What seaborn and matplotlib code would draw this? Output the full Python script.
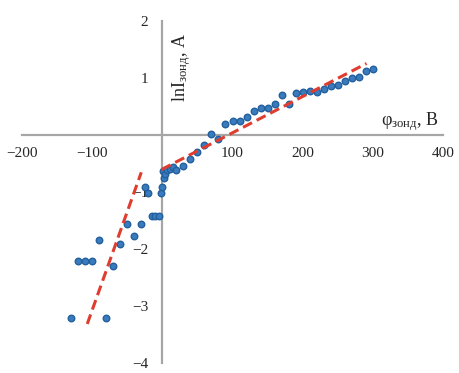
import matplotlib.pyplot as plt
import pandas as pd
import seaborn as sns

# probe potential, V and ln of probe current
phi = [-130, -120, -110, -100, -90, -80, -70, -60, -50, -40, -30, -25, -20,
       -15, -10, -5, -2, 0, 1, 2, 4, 7, 11, 15, 20, 30, 40, 50, 60, 70, 80,
       90, 100, 110, 120, 130, 140, 150, 160, 170, 180, 190, 200, 210, 220,
       230, 240, 250, 260, 270, 280, 290, 300]
ln_i = [-3.22, -2.22, -2.22, -2.22, -1.84, -3.22, -2.30, -1.91, -1.57, -1.78,
        -1.57, -0.91, -1.03, -1.43, -1.43, -1.43, -1.03, -0.92, -0.63, -0.76,
        -0.69, -0.62, -0.60, -0.56, -0.62, -0.55, -0.42, -0.30, -0.18, 0.01,
        -0.07, 0.18, 0.245, 0.245, 0.305, 0.42, 0.47, 0.47, 0.53, 0.70, 0.53,
        0.73, 0.75, 0.76, 0.755, 0.80, 0.855, 0.87, 0.95, 0.99, 1.02, 1.12,
        1.16]

# linear fits (end points)
fit1_x = [-107, -30]
fit1_y = [-3.32, -0.66]
fit2_x = [-1, 291]
fit2_y = [-0.61, 1.25]

x_ticks = [-200, -100, 100, 200, 300, 400]
y_ticks = [-4, -3, -2, -1, 1, 2]

df = pd.DataFrame({"phi": phi, "lnI": ln_i})

sns.set_style("white")
plt.rcParams["font.family"] = ["Liberation Serif", "DejaVu Serif"]
plt.rcParams["mathtext.fontset"] = "custom"
plt.rcParams["mathtext.rm"] = "Liberation Serif"
plt.rcParams["mathtext.it"] = "Liberation Serif:italic"

fig = plt.figure(figsize=(4.6, 3.73), dpi=100)
ax = fig.add_axes([22 / 460, 1 - 362.7 / 373, 421 / 460, 342 / 373])

sns.scatterplot(data=df, x="phi", y="lnI", ax=ax, color="#3A7BBD",
                edgecolor="#22609E", linewidth=1.0, s=22, zorder=3)
for fx, fy in [(fit1_x, fit1_y), (fit2_x, fit2_y)]:
    sns.lineplot(x=fx, y=fy, ax=ax, color="#DF3D2F", linewidth=2.2,
                 dashes=False, zorder=4)
    ax.lines[-1].set_linestyle((0, (3.3, 1.7)))

ax.set_xlim(-200, 400)
ax.set_ylim(-4, 2)
ax.set_xticks(x_ticks)
ax.set_yticks(y_ticks)
ax.set_xlabel("")
ax.set_ylabel("")

for side in ["top", "right"]:
    ax.spines[side].set_visible(False)
for side in ["left", "bottom"]:
    ax.spines[side].set_position("zero")
    ax.spines[side].set_color("#A6A6A6")
    ax.spines[side].set_linewidth(1.6)
    ax.spines[side].set_zorder(1)
ax.tick_params(axis="both", length=0, labelsize=11)
ax.tick_params(axis="x", pad=9)
ax.tick_params(axis="y", pad=10)
ax.patch.set_alpha(0)

ax.text(28, 1.18, "lnI$_{\\mathrm{зонд}}$, А", rotation=90, fontsize=13,
        ha="center", va="center")
ax.text(352, 0.23, "φ$_{\\mathrm{зонд}}$, В", fontsize=13,
        ha="center", va="center")

fig.savefig("out.png", dpi=100)
